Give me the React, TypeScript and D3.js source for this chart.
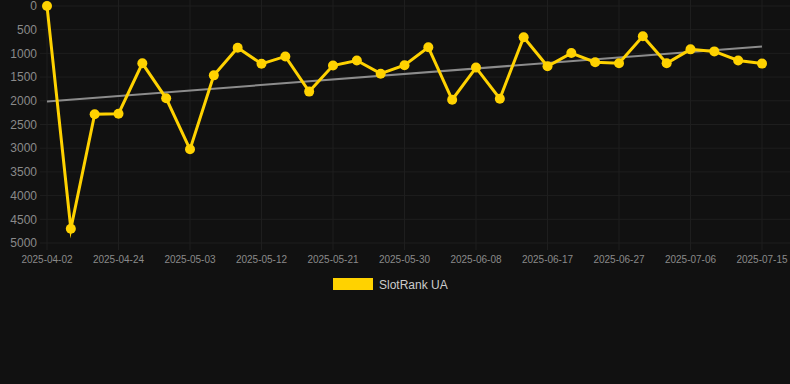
import React from "react";
import * as d3 from "d3";

const dates = [
  "2025-04-02", "2025-04-10", "2025-04-18", "2025-04-24", "2025-04-27", "2025-04-30",
  "2025-05-03", "2025-05-06", "2025-05-09", "2025-05-12", "2025-05-15", "2025-05-18",
  "2025-05-21", "2025-05-24", "2025-05-27", "2025-05-30", "2025-06-02", "2025-06-05",
  "2025-06-08", "2025-06-11", "2025-06-14", "2025-06-17", "2025-06-20", "2025-06-24",
  "2025-06-27", "2025-06-30", "2025-07-03", "2025-07-06", "2025-07-09", "2025-07-12",
  "2025-07-15",
];
const ranks = [
  1, 4700, 2285, 2272, 1209, 1947, 3024, 1463, 879, 1220, 1064, 1806, 1257, 1150, 1428,
  1250, 872, 1978, 1300, 1956, 658, 1272, 993, 1186, 1207, 637, 1207, 915, 958, 1150, 1215,
];
const yTicks = [0, 500, 1000, 1500, 2000, 2500, 3000, 3500, 4000, 4500, 5000];
const seriesName = "SlotRank UA";

const W = 790;
const H = 384;
const FONT = "'Liberation Sans', Arial, Helvetica, sans-serif";
const GOLD = "#FFD200";
const GRID = "#1e1e1e";

export default function App() {
  const x = d3.scalePoint<string>().domain(dates).range([47, 762]);
  const y = d3.scaleLinear().domain([0, 5000]).range([6, 243]);

  const pts = dates.map((d, i) => [x(d) as number, y(ranks[i])] as [number, number]);
  const line = d3.line<[number, number]>().x((p) => p[0]).y((p) => p[1]);

  // linear regression trend
  const n = ranks.length;
  const xs = d3.range(n);
  const mx = d3.mean(xs) as number;
  const my = d3.mean(ranks) as number;
  const slope =
    d3.sum(xs, (i) => (i - mx) * (ranks[i] - my)) / d3.sum(xs, (i) => (i - mx) * (i - mx));
  const icpt = my - slope * mx;
  const t0 = icpt;
  const t1 = icpt + slope * (n - 1);

  const labelIdx = xs.filter((i) => i % 3 === 0);

  return (
    <svg
      width={W}
      height={H}
      style={{ position: "absolute", left: 0, top: 0, background: "#111111" }}
      fontFamily={FONT}
    >
      <rect x={0} y={0} width={W} height={H} fill="#111111" />
      {/* horizontal grid */}
      {yTicks.map((t) => (
        <line key={"h" + t} x1={40} x2={W} y1={y(t)} y2={y(t)} stroke={GRID} strokeWidth={1} />
      ))}
      {/* vertical grid */}
      {labelIdx.map((i) => (
        <line
          key={"v" + i}
          x1={x(dates[i])}
          x2={x(dates[i])}
          y1={0}
          y2={250}
          stroke={GRID}
          strokeWidth={1}
        />
      ))}
      {/* y labels */}
      {yTicks.map((t) => (
        <text
          key={"yl" + t}
          x={37}
          y={y(t)}
          dy="0.35em"
          textAnchor="end"
          fontSize={12}
          fill="#8a8a8a"
        >
          {t}
        </text>
      ))}
      {/* x labels */}
      {labelIdx.map((i) => (
        <text
          key={"xl" + i}
          x={x(dates[i])}
          y={263}
          textAnchor="middle"
          fontSize={10}
          fill="#8a8a8a"
        >
          {dates[i]}
        </text>
      ))}
      {/* trend line */}
      <line
        x1={x(dates[0])}
        x2={x(dates[n - 1])}
        y1={y(t0)}
        y2={y(t1)}
        stroke="#8c8c8c"
        strokeWidth={2}
      />
      {/* series */}
      <path
        d={line(pts) || ""}
        fill="none"
        stroke={GOLD}
        strokeWidth={3}
        strokeLinejoin="miter"
        strokeMiterlimit={10}
      />
      {pts.map((p, i) => (
        <circle key={"c" + i} cx={p[0]} cy={p[1]} r={5} fill={GOLD} />
      ))}
      {/* legend */}
      <rect x={333} y={278} width={40} height={12} fill={GOLD} />
      <text x={379} y={288.5} fontSize={12} fill="#cccccc">
        {seriesName}
      </text>
    </svg>
  );
}
